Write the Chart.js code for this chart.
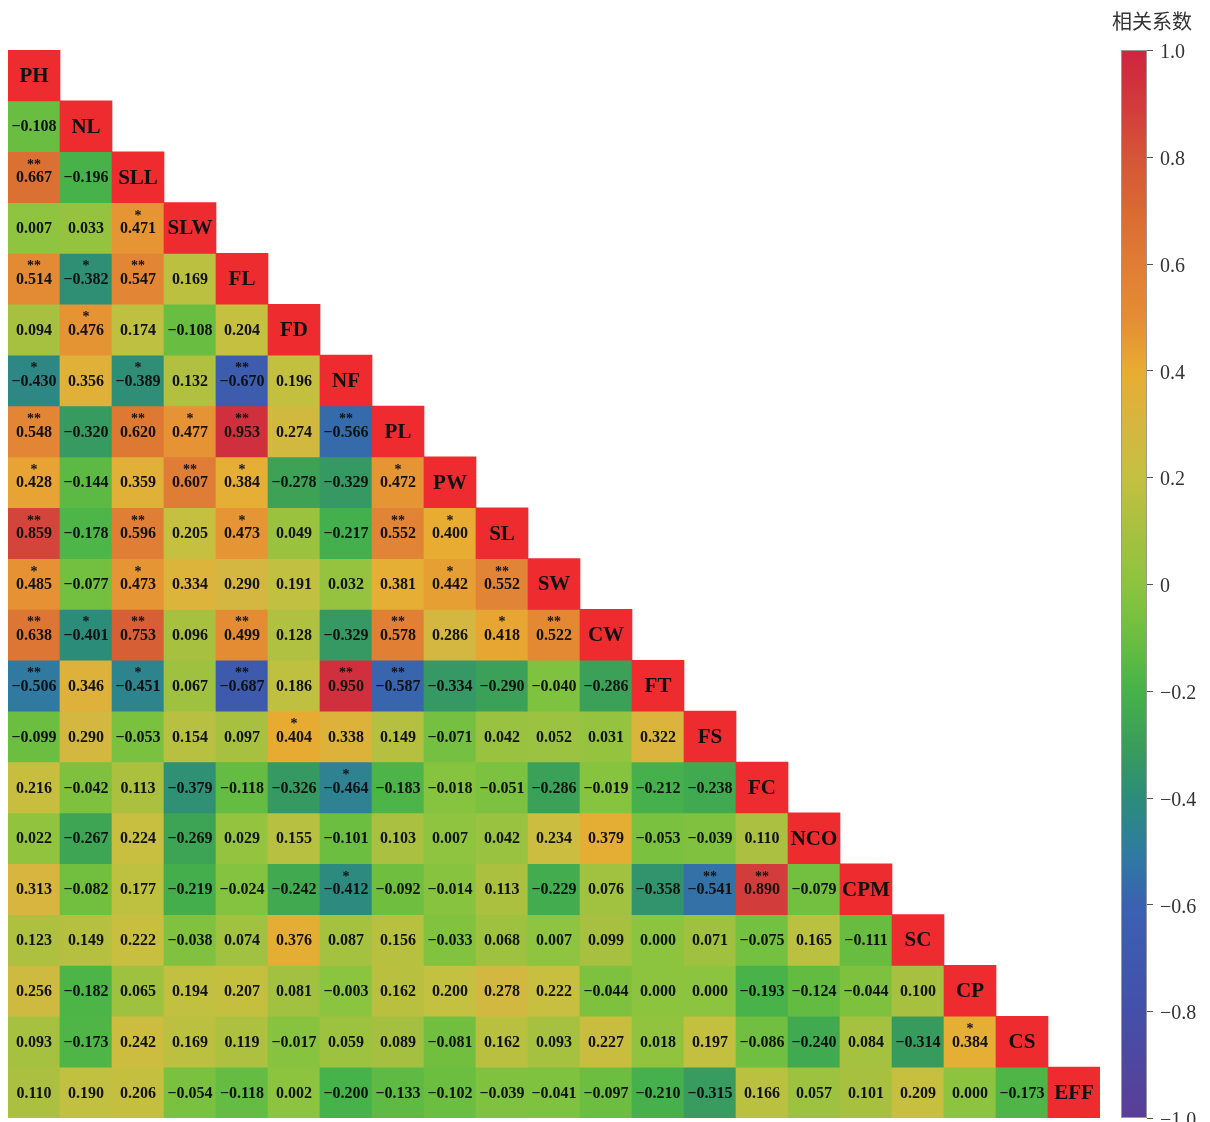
<!DOCTYPE html>
<html>
<head>
<meta charset="utf-8">
<script src="https://cdn.jsdelivr.net/npm/chart.js@4.4.0/dist/chart.umd.min.js"></script>
<style>
  body { margin: 0; background: #fff; }
  #wrap { width: 1210px; height: 1122px; }
</style>
</head>
<body>
<div id="wrap"><canvas id="myChart"></canvas></div>
<script>
const vars = ["PH", "NL", "SLL", "SLW", "FL", "FD", "NF", "PL", "PW", "SL", "SW",
  "CW", "FT", "FS", "FC", "NCO", "CPM", "SC", "CP", "CS", "EFF"];

// lower triangle, one row per variable (columns PH..)
const rowNL = [-0.108];
const rowSLL = [0.667, -0.196];
const rowSLW = [0.007, 0.033, 0.471];
const rowFL = [0.514, -0.382, 0.547, 0.169];
const rowFD = [0.094, 0.476, 0.174, -0.108, 0.204];
const rowNF = [-0.430, 0.356, -0.389, 0.132, -0.670, 0.196];
const rowPL = [0.548, -0.320, 0.620, 0.477, 0.953, 0.274, -0.566];
const rowPW = [0.428, -0.144, 0.359, 0.607, 0.384, -0.278, -0.329, 0.472];
const rowSL = [0.859, -0.178, 0.596, 0.205, 0.473, 0.049, -0.217, 0.552, 0.400];
const rowSW = [0.485, -0.077, 0.473, 0.334, 0.290, 0.191, 0.032, 0.381, 0.442, 0.552];
const rowCW = [0.638, -0.401, 0.753, 0.096, 0.499, 0.128, -0.329, 0.578, 0.286, 0.418, 0.522];
const rowFT = [-0.506, 0.346, -0.451, 0.067, -0.687, 0.186, 0.950, -0.587, -0.334, -0.290, -0.040, -0.286];
const rowFS = [-0.099, 0.290, -0.053, 0.154, 0.097, 0.404, 0.338, 0.149, -0.071, 0.042, 0.052, 0.031, 0.322];
const rowFC = [0.216, -0.042, 0.113, -0.379, -0.118, -0.326, -0.464, -0.183, -0.018, -0.051, -0.286, -0.019, -0.212, -0.238];
const rowNCO = [0.022, -0.267, 0.224, -0.269, 0.029, 0.155, -0.101, 0.103, 0.007, 0.042, 0.234, 0.379, -0.053, -0.039, 0.110];
const rowCPM = [0.313, -0.082, 0.177, -0.219, -0.024, -0.242, -0.412, -0.092, -0.014, 0.113, -0.229, 0.076, -0.358, -0.541, 0.890, -0.079];
const rowSC = [0.123, 0.149, 0.222, -0.038, 0.074, 0.376, 0.087, 0.156, -0.033, 0.068, 0.007, 0.099, 0.000, 0.071, -0.075, 0.165, -0.111];
const rowCP = [0.256, -0.182, 0.065, 0.194, 0.207, 0.081, -0.003, 0.162, 0.200, 0.278, 0.222, -0.044, 0.000, 0.000, -0.193, -0.124, -0.044, 0.100];
const rowCS = [0.093, -0.173, 0.242, 0.169, 0.119, -0.017, 0.059, 0.089, -0.081, 0.162, 0.093, 0.227, 0.018, 0.197, -0.086, -0.240, 0.084, -0.314, 0.384];
const rowEFF = [0.110, 0.190, 0.206, -0.054, -0.118, 0.002, -0.200, -0.133, -0.102, -0.039, -0.041, -0.097, -0.210, -0.315, 0.166, 0.057, 0.101, 0.209, 0.000, -0.173];

// significance marks, "row-col"
const twoStar = ["SLL-PH", "FL-PH", "FL-SLL", "NF-FL", "PL-PH", "PL-SLL", "PL-FL", "PL-NF",
  "PW-SLW", "SL-PH", "SL-SLL", "SL-PL", "SW-SL", "CW-PH", "CW-SLL", "CW-FL", "CW-PL", "CW-SW",
  "FT-PH", "FT-FL", "FT-NF", "FT-PL", "CPM-FS", "CPM-FC"];
const oneStar = ["SLW-SLL", "FL-NL", "FD-NL", "NF-PH", "NF-SLL", "PL-SLW", "PW-PH", "PW-FL",
  "PW-PL", "SL-FL", "SL-PW", "SW-PH", "SW-SLL", "SW-PW", "CW-NL", "CW-SL", "FT-SLL", "FS-FD",
  "FC-NF", "CPM-NF", "CS-CP"];

const cbTicks = [-1, -0.8, -0.6, -0.4, -0.2, 0, 0.2, 0.4, 0.6, 0.8, 1];
const cbLabels = ["−1.0", "−0.8", "−0.6", "−0.4", "−0.2", "0", "0.2", "0.4", "0.6", "0.8", "1.0"];

const rows = [[], rowNL, rowSLL, rowSLW, rowFL, rowFD, rowNF, rowPL, rowPW, rowSL, rowSW,
  rowCW, rowFT, rowFS, rowFC, rowNCO, rowCPM, rowSC, rowCP, rowCS, rowEFF];

const cmapStops = [
  [-1.0, [91, 62, 150]], [-0.8, [68, 80, 168]], [-0.6, [58, 98, 176]], [-0.5, [47, 124, 160]],
  [-0.4, [44, 140, 122]], [-0.3, [58, 158, 90]], [-0.2, [70, 178, 74]], [-0.1, [108, 190, 64]],
  [0.0, [140, 196, 63]], [0.1, [168, 192, 64]], [0.2, [196, 192, 64]], [0.3, [214, 182, 64]],
  [0.4, [232, 172, 50]], [0.5, [228, 140, 52]], [0.6, [224, 125, 53]], [0.7, [216, 106, 50]],
  [0.8, [213, 85, 56]], [0.9, [210, 58, 60]], [1.0, [206, 37, 63]]
];
function cmap(v) {
  for (let k = 1; k < cmapStops.length; k++) {
    const [v1, c1] = cmapStops[k];
    if (v <= v1 || k === cmapStops.length - 1) {
      const [v0, c0] = cmapStops[k - 1];
      const t = Math.max(0, Math.min(1, (v - v0) / (v1 - v0)));
      const c = c0.map((a, n) => Math.round(a + (c1[n] - a) * t));
      return `rgb(${c[0]},${c[1]},${c[2]})`;
    }
  }
}

const datasets = vars.map((name, i) => {
  const data = [];
  rows[i].forEach((v, j) => {
    const key = name + "-" + vars[j];
    const star = twoStar.includes(key) ? "**" : oneStar.includes(key) ? "*" : "";
    data.push({ x: vars[j], y: [i - 0.5, i + 0.5], v: v, star: star });
  });
  data.push({ x: name, y: [i - 0.5, i + 0.5], v: 1, diag: true });
  return {
    label: name,
    data: data,
    yAxisID: "y",
    grouped: false,
    barPercentage: 1,
    categoryPercentage: 1,
    borderWidth: 0,
    backgroundColor: (c) => (c.raw && c.raw.diag ? "#ee2c30" : cmap(c.raw ? c.raw.v : 0)),
  };
});

const cellText = {
  id: "cellText",
  afterDatasetsDraw(chart) {
    const ctx = chart.ctx;
    ctx.save();
    ctx.textAlign = "center";
    ctx.textBaseline = "middle";
    ctx.fillStyle = "#111";
    chart.data.datasets.forEach((ds, di) => {
      const meta = chart.getDatasetMeta(di);
      meta.data.forEach((el, k) => {
        const raw = ds.data[k];
        const p = el.getCenterPoint();
        if (raw.diag) {
          ctx.font = "bold 21px 'Liberation Serif'";
          ctx.fillText(ds.label, p.x, p.y + 1);
        } else {
          ctx.font = "bold 16px 'Liberation Serif'";
          ctx.fillText(raw.v.toFixed(3).replace("-", "−"), p.x, p.y + 1);
          if (raw.star) {
            ctx.font = "bold 14px 'Liberation Serif'";
            ctx.fillText(raw.star, p.x, p.y - 12);
          }
        }
      });
    });
    ctx.restore();
  },
};

const colorBar = {
  id: "colorBar",
  afterDraw(chart) {
    const s = chart.scales.cb;
    const ctx = chart.ctx;
    const x0 = s.left + 21, w = 26;
    const yTop = s.getPixelForValue(1), yBot = s.getPixelForValue(-1);
    const g = ctx.createLinearGradient(0, yBot, 0, yTop);
    cmapStops.forEach(([v, c]) => g.addColorStop((v + 1) / 2, `rgb(${c[0]},${c[1]},${c[2]})`));
    ctx.save();
    ctx.fillStyle = g;
    ctx.fillRect(x0, yTop, w, yBot - yTop);
    ctx.strokeStyle = "#999";
    ctx.lineWidth = 1;
    ctx.strokeRect(x0 + 0.5, yTop + 0.5, w - 1, yBot - yTop - 1);
    ctx.strokeStyle = "#555";
    cbTicks.forEach((v) => {
      const y = Math.round(s.getPixelForValue(v)) + 0.5;
      ctx.beginPath();
      ctx.moveTo(x0 + w, y);
      ctx.lineTo(x0 + w + 6, y);
      ctx.stroke();
    });
    ctx.fillStyle = "#333";
    ctx.font = "20px 'Noto Sans CJK SC'";
    ctx.textAlign = "center";
    ctx.textBaseline = "middle";
    ctx.fillText("相关系数", x0 + w / 2 + 18, 21);
    ctx.restore();
  },
};

const ctx = document.getElementById("myChart").getContext("2d");
const myChart = new Chart(ctx, {
  type: "bar",
  data: { labels: vars, datasets: datasets },
  options: {
    responsive: true,
    maintainAspectRatio: false,
    animation: false,
    layout: { padding: { left: 8, top: 50, bottom: 4, right: 0 } },
    plugins: { legend: { display: false }, tooltip: { enabled: false } },
    scales: {
      x: { type: "category", display: false, offset: true },
      y: { type: "linear", display: false, min: -0.5, max: 20.5, reverse: true },
      cb: {
        type: "linear",
        position: "right",
        min: -1,
        max: 1,
        grid: { display: false, drawTicks: false },
        border: { display: false },
        afterBuildTicks: (s) => { s.ticks = cbTicks.map((v) => ({ value: v })); },
        afterFit: (s) => { s.width = 110; s.paddingTop = 0; s.paddingBottom = 0; },
        ticks: {
          padding: 60,
          labelOffset: 3,
          color: "#333",
          font: { family: "'Liberation Serif'", size: 20 },
          callback: (v, i) => cbLabels[i],
        },
      },
    },
  },
  plugins: [cellText, colorBar],
});
</script>
</body>
</html>
